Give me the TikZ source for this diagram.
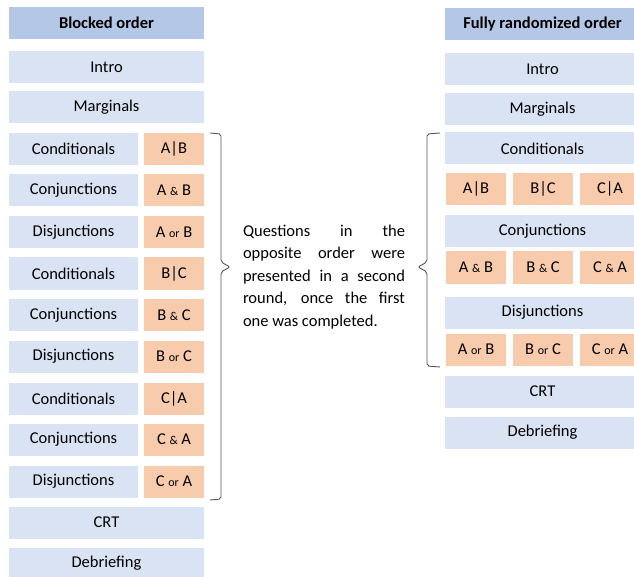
\documentclass[tikz,border=0pt]{standalone}
\usepackage{fontspec}
\setmainfont{Carlito}
\definecolor{stageblue}{HTML}{DAE3F3}
\definecolor{headblue}{HTML}{B4C7E7}
\definecolor{pairorange}{HTML}{F8CBAD}
\definecolor{bracegray}{HTML}{555555}
\newcommand{\opword}[1]{{\fontsize{12}{12}\selectfont #1}}
\tikzset{
  stage/.style={fill=stageblue, inner sep=0pt, minimum height=32pt, font=\fontsize{16.5}{20}\selectfont},
  headbox/.style={stage, fill=headblue, font=\fontsize{16.5}{20}\selectfont\bfseries},
  pairbox/.style={stage, fill=pairorange, minimum width=60pt},
  bracket/.style={draw=bracegray, line width=0.9pt, rounded corners=2pt}
}
\begin{document}
\begin{tikzpicture}[x=1pt, y=-1pt]
    \useasboundingbox (0,0) rectangle (634,577);

    % blocked order
    \node[headbox, minimum width=195pt] (bhead) at (106.5,23) {Blocked order};
    \node[stage, minimum width=195pt] (bintro) at (106.5,67.5) {Intro};
    \node[stage, minimum width=195pt] (bmarg) at (106.5,107.5) {Marginals};

    \node[stage, minimum width=129pt] (bcond1) at (73.5,149) {Conditionals};
    \node[pairbox] (bpair1) at (174,149) {A|B};
    \node[stage, minimum width=129pt] (bconj1) at (73.5,190.5) {Conjunctions};
    \node[pairbox] (bpair2) at (174,190.5) {A \opword{\&} B};
    \node[stage, minimum width=129pt] (bdisj1) at (73.5,232) {Disjunctions};
    \node[pairbox] (bpair3) at (174,232) {A \opword{or} B};

    \node[stage, minimum width=129pt] (bcond2) at (73.5,273.5) {Conditionals};
    \node[pairbox] (bpair4) at (174,273.5) {B|C};
    \node[stage, minimum width=129pt] (bconj2) at (73.5,315) {Conjunctions};
    \node[pairbox] (bpair5) at (174,315) {B \opword{\&} C};
    \node[stage, minimum width=129pt] (bdisj2) at (73.5,356.5) {Disjunctions};
    \node[pairbox] (bpair6) at (174,356.5) {B \opword{or} C};

    \node[stage, minimum width=129pt] (bcond3) at (73.5,398.5) {Conditionals};
    \node[pairbox] (bpair7) at (174,398.5) {C|A};
    \node[stage, minimum width=129pt] (bconj3) at (73.5,439.5) {Conjunctions};
    \node[pairbox] (bpair8) at (174,439.5) {C \opword{\&} A};
    \node[stage, minimum width=129pt] (bdisj3) at (73.5,481.5) {Disjunctions};
    \node[pairbox] (bpair9) at (174,481.5) {C \opword{or} A};

    \node[stage, minimum width=195pt] (bcrt) at (106.5,522.5) {CRT};
    \node[stage, minimum width=195pt] (bdebrief) at (106.5,563.5) {Debriefing};

    % fully randomized order
    \node[headbox, minimum width=195pt] (rhead) at (542.5,24.5) {Fully randomized order};
    \node[stage, minimum width=195pt] (rintro) at (542.5,69) {Intro};
    \node[stage, minimum width=195pt] (rmarg) at (542.5,109) {Marginals};
    \node[stage, minimum width=195pt] (rcond) at (542.5,148.5) {Conditionals};
    \node[pairbox] (rpair1) at (476,189) {A|B};
    \node[pairbox] (rpair2) at (543,189) {B|C};
    \node[pairbox] (rpair3) at (610,189) {C|A};
    \node[stage, minimum width=195pt] (rconj) at (542.5,231) {Conjunctions};
    \node[pairbox] (rpair4) at (476,267.5) {A \opword{\&} B};
    \node[pairbox] (rpair5) at (543,267.5) {B \opword{\&} C};
    \node[pairbox] (rpair6) at (610,267.5) {C \opword{\&} A};
    \node[stage, minimum width=195pt] (rdisj) at (542.5,312.5) {Disjunctions};
    \node[pairbox] (rpair7) at (476,349.5) {A \opword{or} B};
    \node[pairbox] (rpair8) at (543,349.5) {B \opword{or} C};
    \node[pairbox] (rpair9) at (610,349.5) {C \opword{or} A};
    \node[stage, minimum width=195pt] (rcrt) at (542.5,391.5) {CRT};
    \node[stage, minimum width=195pt] (rdebrief) at (542.5,432.5) {Debriefing};

    % note between the two
    \node[text width=162pt, align=justify, inner sep=0pt,
          font=\fontsize{16.5}{22.5}\selectfont] (note) at (324,277)
      {Questions in the\linebreak opposite order were\linebreak presented in a second\linebreak round, once the first\linebreak one was completed.};

    % brackets
    \draw[bracket] (210,133) -- (221,134) -- (221,262) -- (230,267) -- (221,272) -- (221,499) -- (210,500);
    \draw[bracket] (440,133) -- (427,134) -- (427,262) -- (418,267) -- (427,272) -- (427,366) -- (440,367);
\end{tikzpicture}
\end{document}
